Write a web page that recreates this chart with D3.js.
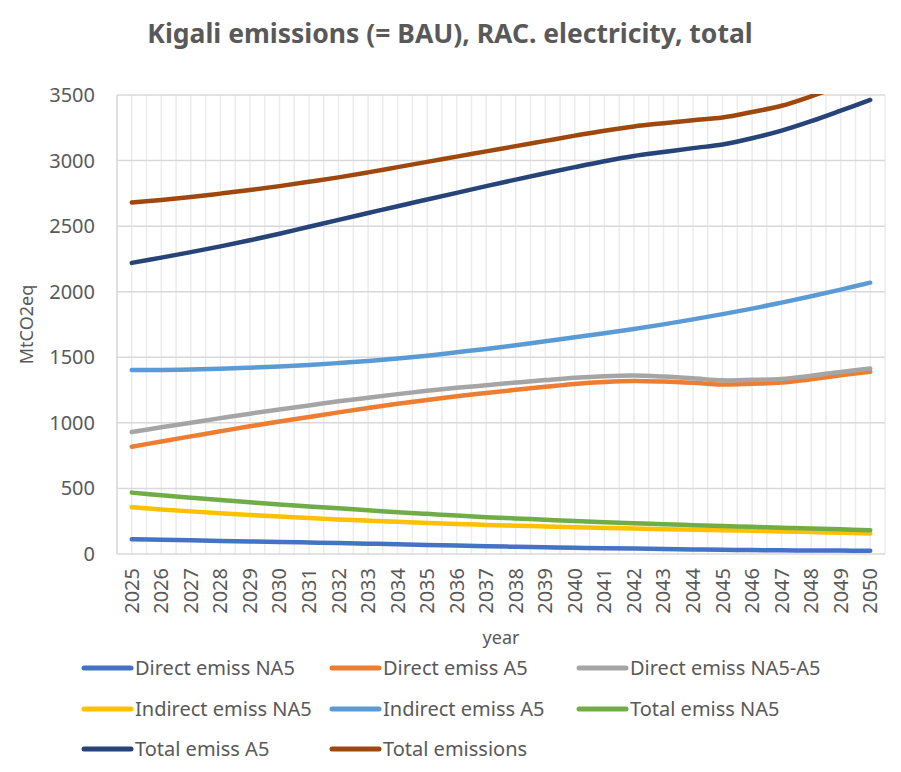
<!DOCTYPE html>
<html>
<head>
<meta charset="utf-8">
<script src="https://cdn.jsdelivr.net/npm/d3@7"></script>
<style>
  body { margin: 0; background: #fff; }
  text { font-family: "Noto Sans", sans-serif; fill: #595959; }
</style>
</head>
<body>
<svg id="chart" width="901" height="772"></svg>
<script>
// data
const years = d3.range(2025, 2051)
const yTicks = [0, 500, 1000, 1500, 2000, 2500, 3000, 3500]

const directNA5 = [112, 108, 104, 100, 96, 92, 88, 84, 79, 74, 69, 64, 59, 55, 51, 47, 44, 41, 38, 35, 32, 30, 28, 27, 26, 25]
const directA5 = [818, 858, 897, 936, 974, 1010, 1045, 1080, 1113, 1145, 1175, 1203, 1228, 1252, 1275, 1297, 1312, 1320, 1315, 1305, 1292, 1298, 1307, 1333, 1362, 1390]
const directNA5A5 = [930, 966, 1001, 1036, 1070, 1102, 1133, 1164, 1192, 1219, 1244, 1267, 1287, 1307, 1326, 1344, 1356, 1361, 1353, 1340, 1324, 1328, 1335, 1360, 1388, 1415]
const indirectNA5 = [356, 340, 325, 311, 298, 286, 275, 264, 254, 245, 237, 229, 222, 216, 210, 204, 199, 194, 189, 185, 181, 177, 172, 167, 162, 157]
const indirectA5 = [1403, 1403, 1406, 1412, 1420, 1430, 1442, 1456, 1472, 1490, 1512, 1538, 1564, 1592, 1622, 1652, 1683, 1716, 1751, 1789, 1829, 1871, 1917, 1965, 2016, 2069]
const totalNA5 = [468, 448, 429, 411, 394, 378, 363, 348, 333, 319, 306, 293, 281, 271, 261, 251, 243, 235, 227, 220, 213, 207, 200, 194, 188, 182]
const totalA5 = [2220, 2260, 2302, 2346, 2392, 2442, 2495, 2548, 2600, 2652, 2703, 2754, 2805, 2855, 2903, 2950, 2995, 3035, 3065, 3095, 3122, 3170, 3228, 3300, 3380, 3462]
const totalEmissions = [2680, 2700, 2722, 2748, 2775, 2805, 2838, 2872, 2910, 2950, 2990, 3030, 3070, 3110, 3150, 3190, 3228, 3260, 3285, 3308, 3328, 3370, 3418, 3490, 3570, 3650]

const seriesNames = ['Direct emiss NA5', 'Direct emiss A5', 'Direct emiss NA5-A5',
  'Indirect emiss NA5', 'Indirect emiss A5', 'Total emiss NA5',
  'Total emiss A5', 'Total emissions']
const seriesValues = [directNA5, directA5, directNA5A5, indirectNA5, indirectA5, totalNA5, totalA5, totalEmissions]
const colors = ['#4472c4', '#ed7d31', '#a5a5a5', '#ffc000', '#5b9bd5', '#70ad47', '#264478', '#9e480e']

const svg = d3.select('#chart')
const plotLeft = 117, plotRight = 885, plotTop = 95, plotBottom = 554

const xScale = d3.scaleBand().domain(years).range([plotLeft, plotRight])
const bw = xScale.bandwidth()
const cx = (yr) => xScale(yr) + bw / 2
const yScale = d3.scaleLinear().domain([0, 3500]).range([plotBottom, plotTop])

// title
svg.append('text')
  .attr('x', 450).attr('y', 43)
  .attr('text-anchor', 'middle')
  .style('font-size', '26.5px').style('font-weight', 'bold')
  .text('Kigali emissions (= BAU), RAC. electricity, total')

// vertical gridlines at category edges and centres
const vLines = []
years.forEach(yr => { vLines.push(xScale(yr)); vLines.push(cx(yr)) })
vLines.push(plotRight)
svg.append('g').selectAll('line').data(vLines).enter().append('line')
  .attr('x1', d => d).attr('x2', d => d)
  .attr('y1', plotTop).attr('y2', plotBottom)
  .attr('stroke', '#ececec').attr('stroke-width', 1.5)

// horizontal gridlines
svg.append('g').selectAll('line').data(yTicks).enter().append('line')
  .attr('x1', plotLeft).attr('x2', plotRight)
  .attr('y1', d => yScale(d)).attr('y2', d => yScale(d))
  .attr('stroke', '#d9d9d9').attr('stroke-width', 1.5)

svg.append('line')
  .attr('x1', plotLeft).attr('x2', plotLeft).attr('y1', plotTop).attr('y2', plotBottom)
  .attr('stroke', '#d9d9d9').attr('stroke-width', 1.5)

// y tick labels
svg.append('g').selectAll('text').data(yTicks).enter().append('text')
  .attr('x', 95).attr('y', d => yScale(d))
  .attr('dy', '0.35em')
  .attr('text-anchor', 'end')
  .style('font-size', '20px')
  .text(d => d)

// x tick labels, rotated
svg.append('g').selectAll('text').data(years).enter().append('text')
  .attr('transform', d => 'translate(' + cx(d) + ',568) rotate(-90)')
  .attr('dy', '0.35em')
  .attr('text-anchor', 'end')
  .style('font-size', '20px')
  .text(d => d)

// axis titles
svg.append('text')
  .attr('transform', 'translate(33,' + ((plotTop + plotBottom) / 2) + ') rotate(-90)')
  .attr('text-anchor', 'middle')
  .style('font-size', '18px')
  .text('MtCO2eq')

svg.append('text')
  .attr('x', (plotLeft + plotRight) / 2).attr('y', 644)
  .attr('text-anchor', 'middle')
  .style('font-size', '18px')
  .text('year')

// lines
svg.append('clipPath').attr('id', 'plotClip')
  .append('rect').attr('x', plotLeft).attr('y', plotTop - 1)
  .attr('width', plotRight - plotLeft).attr('height', plotBottom - plotTop + 4)

const line = d3.line()
  .x((d, i) => cx(years[i]))
  .y(d => yScale(d))
  .curve(d3.curveCatmullRom.alpha(0.5))

svg.append('g').attr('clip-path', 'url(#plotClip)')
  .selectAll('path').data(seriesValues).enter().append('path')
  .attr('d', d => line(d))
  .attr('fill', 'none')
  .attr('stroke', (d, i) => colors[i])
  .attr('stroke-width', 4.5)
  .attr('stroke-linecap', 'round')

// legend
const legX = [84, 332, 579]
const legY = [668, 709, 749]
const leg = svg.append('g').selectAll('g').data(seriesNames).enter().append('g')
  .attr('transform', (d, i) => 'translate(' + legX[i % 3] + ',' + legY[Math.floor(i / 3)] + ')')
leg.append('line')
  .attr('x1', 0).attr('x2', 47)
  .attr('stroke', (d, i) => colors[i])
  .attr('stroke-width', 5)
  .attr('stroke-linecap', 'round')
leg.append('text')
  .attr('x', 51).attr('dy', '0.35em')
  .style('font-size', '20px')
  .text(d => d)
</script>
</body>
</html>
